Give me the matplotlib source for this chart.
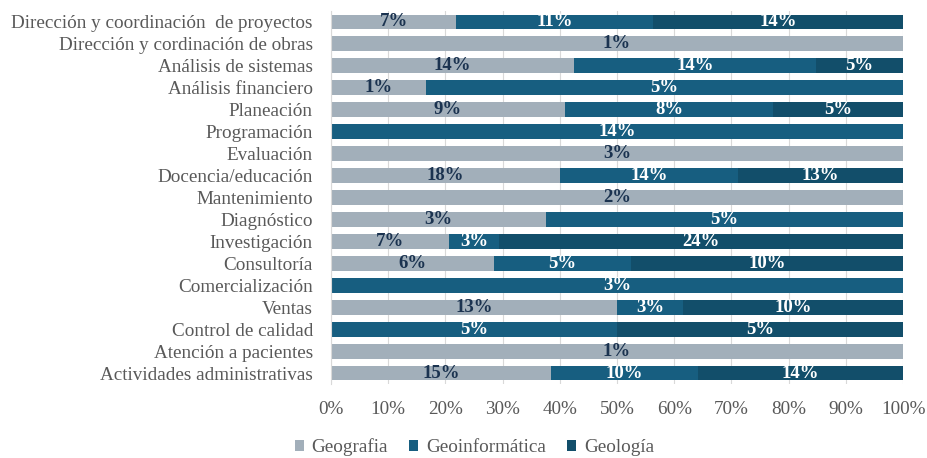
import numpy as np
import matplotlib.pyplot as plt
from matplotlib.ticker import PercentFormatter

categorias = [
    "Dirección y coordinación  de proyectos",
    "Dirección y cordinación de obras",
    "Análisis de sistemas",
    "Análisis financiero",
    "Planeación",
    "Programación",
    "Evaluación",
    "Docencia/educación",
    "Mantenimiento",
    "Diagnóstico",
    "Investigación",
    "Consultoría",
    "Comercialización",
    "Ventas",
    "Control de calidad",
    "Atención a pacientes",
    "Actividades administrativas",
]
geografia      = [7, 1, 14, 1, 9, 0, 3, 18, 2, 3, 7, 6, 0, 13, 0, 1, 15]
geoinformatica = [11, 0, 14, 5, 8, 14, 0, 14, 0, 5, 3, 5, 3, 3, 5, 0, 10]
geologia       = [14, 0, 5, 0, 5, 0, 0, 13, 0, 0, 24, 10, 0, 10, 5, 0, 14]

series = ["Geografia", "Geoinformática", "Geología"]
colores = ["#A2AFBA", "#175E80", "#124E6A"]
color_txt = ["#1B3350", "white", "white"]

plt.rcParams["font.family"] = ["Liberation Serif", "DejaVu Serif"]

datos = np.array([geografia, geoinformatica, geologia], dtype=float)
tot = datos.sum(axis=0)
prop = datos / tot * 100

fig = plt.figure(figsize=(9.28, 4.58), dpi=100)
ax = fig.add_axes([0.3567, 0.1616, 0.6164, 0.8144])

y = np.arange(len(categorias))
izq = np.zeros(len(categorias))
for i, nombre in enumerate(series):
    ax.barh(y, prop[i], left=izq, height=0.68, color=colores[i], label=nombre, zorder=2)
    for j in range(len(categorias)):
        if datos[i, j] > 0:
            ax.text(izq[j] + prop[i, j] / 2, y[j], f"{datos[i, j]:.0f}%",
                    ha="center", va="center", fontsize=13.5, fontweight="bold",
                    color=color_txt[i], zorder=3)
    izq += prop[i]

ax.set_ylim(len(categorias) - 0.5, -0.5)
ax.set_xlim(0, 100)
ax.set_xticks(np.arange(0, 101, 10))
ax.xaxis.set_major_formatter(PercentFormatter(decimals=0))
ax.set_yticks(y)
ax.set_yticklabels(categorias)
ax.tick_params(axis="both", length=0, labelsize=13.8, colors="#595959")
ax.tick_params(axis="x", pad=12)
ax.tick_params(axis="y", pad=13)
ax.grid(axis="x", color="#D9D9D9", linewidth=0.8, zorder=0)
for s in ["top", "right", "bottom"]:
    ax.spines[s].set_visible(False)
ax.spines["left"].set_color("#D9D9D9")

ax.legend(loc="center", bbox_to_anchor=(0.251, -0.17), ncol=3, frameon=False,
          fontsize=13.8, labelcolor="#595959", handlelength=0.47, handleheight=0.47,
          handletextpad=0.42, columnspacing=1.1, borderpad=0.1)

fig.savefig("out.png", dpi=100)
